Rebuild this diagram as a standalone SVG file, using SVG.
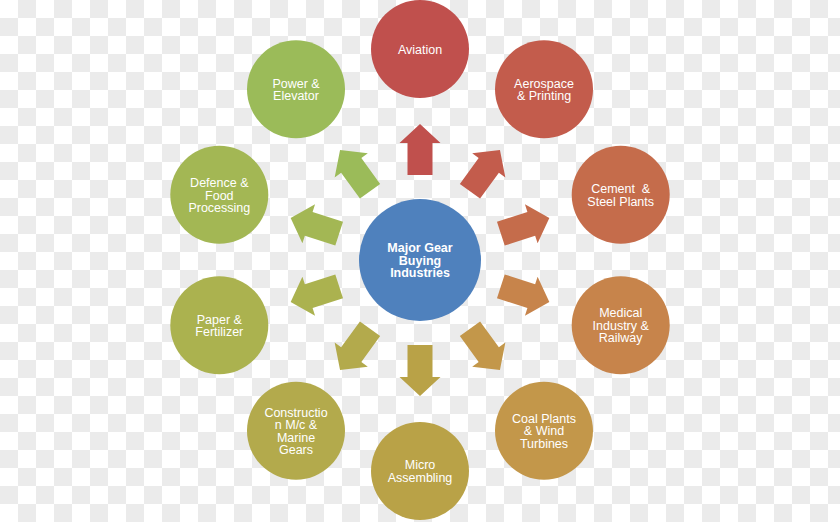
<svg xmlns="http://www.w3.org/2000/svg" xmlns:xlink="http://www.w3.org/1999/xlink" width="840" height="522" viewBox="0 0 840 522">
<defs>
<pattern id="checker" x="0" y="0" width="36" height="36" patternUnits="userSpaceOnUse">
<rect x="0" y="0" width="36" height="36" fill="#ffffff"/>
<rect x="18" y="0" width="18" height="18" fill="#ebebeb"/>
<rect x="0" y="18" width="18" height="18" fill="#ebebeb"/>
</pattern>
<path id="arr" d="M0,-136 L20.5,-117 L12.5,-117 L12.5,-85 L-12.5,-85 L-12.5,-117 L-20.5,-117 Z"/>
</defs>
<style>
.lbl{font-family:"Liberation Sans",Arial,sans-serif;font-size:12.5px;fill:#ffffff;text-anchor:middle;white-space:pre}
.ctr{font-family:"Liberation Sans",Arial,sans-serif;font-size:12.5px;font-weight:bold;fill:#ffffff;text-anchor:middle}
</style>
<rect width="840" height="522" fill="url(#checker)"/>
<g id="connectors">
<use xlink:href="#arr" href="#arr" transform="translate(420,260) rotate(0)" fill="#c0504d"/>
<use xlink:href="#arr" href="#arr" transform="translate(420,260) rotate(36)" fill="#c35c4c"/>
<use xlink:href="#arr" href="#arr" transform="translate(420,260) rotate(72)" fill="#c56c4b"/>
<use xlink:href="#arr" href="#arr" transform="translate(420,260) rotate(108)" fill="#c7844b"/>
<use xlink:href="#arr" href="#arr" transform="translate(420,260) rotate(144)" fill="#c3974a"/>
<use xlink:href="#arr" href="#arr" transform="translate(420,260) rotate(180)" fill="#b9a247"/>
<use xlink:href="#arr" href="#arr" transform="translate(420,260) rotate(216)" fill="#b3aa4c"/>
<use xlink:href="#arr" href="#arr" transform="translate(420,260) rotate(252)" fill="#abb24f"/>
<use xlink:href="#arr" href="#arr" transform="translate(420,260) rotate(288)" fill="#a3b754"/>
<use xlink:href="#arr" href="#arr" transform="translate(420,260) rotate(324)" fill="#9bbb59"/>
</g>
<g id="center">
<circle cx="420" cy="260" r="61" fill="#4f81bd"/>
<text class="ctr" x="420" y="252">Major Gear</text>
<text class="ctr" x="420" y="264.5">Buying</text>
<text class="ctr" x="420" y="277">Industries</text>
</g>
<g id="aviation">
<circle cx="420" cy="49" r="49" fill="#c0504d"/>
<text class="lbl" x="420" y="53.5">Aviation</text>
</g>
<g id="aerospace">
<circle cx="544" cy="89.3" r="49" fill="#c35c4c"/>
<text class="lbl" x="544" y="87.5">Aerospace</text>
<text class="lbl" x="544" y="100">&amp; Printing</text>
</g>
<g id="cement">
<circle cx="620.7" cy="194.8" r="49" fill="#c56c4b"/>
<text class="lbl" x="620.7" y="193" xml:space="preserve">Cement  &amp;</text>
<text class="lbl" x="620.7" y="205.5">Steel Plants</text>
</g>
<g id="medical">
<circle cx="620.7" cy="325.2" r="49" fill="#c7844b"/>
<text class="lbl" x="620.7" y="317">Medical</text>
<text class="lbl" x="620.7" y="329.5">Industry &amp;</text>
<text class="lbl" x="620.7" y="342">Railway</text>
</g>
<g id="coal">
<circle cx="544" cy="430.7" r="49" fill="#c3974a"/>
<text class="lbl" x="544" y="422.5">Coal Plants</text>
<text class="lbl" x="544" y="435">&amp; Wind</text>
<text class="lbl" x="544" y="447.5">Turbines</text>
</g>
<g id="micro">
<circle cx="420" cy="471" r="49" fill="#b9a247"/>
<text class="lbl" x="420" y="469">Micro</text>
<text class="lbl" x="420" y="481.5">Assembling</text>
</g>
<g id="construction">
<circle cx="296" cy="430.7" r="49" fill="#b3aa4c"/>
<text class="lbl" x="296" y="416.5">Constructio</text>
<text class="lbl" x="296" y="429">n M/c &amp;</text>
<text class="lbl" x="296" y="441.5">Marine</text>
<text class="lbl" x="296" y="454">Gears</text>
</g>
<g id="paper">
<circle cx="219.3" cy="325.2" r="49" fill="#abb24f"/>
<text class="lbl" x="219.3" y="323.5">Paper &amp;</text>
<text class="lbl" x="219.3" y="336">Fertilizer</text>
</g>
<g id="defence">
<circle cx="219.3" cy="194.8" r="49" fill="#a3b754"/>
<text class="lbl" x="219.3" y="187">Defence &amp;</text>
<text class="lbl" x="219.3" y="199.5">Food</text>
<text class="lbl" x="219.3" y="212">Processing</text>
</g>
<g id="power">
<circle cx="296" cy="89.3" r="49" fill="#9bbb59"/>
<text class="lbl" x="296" y="87.5">Power &amp;</text>
<text class="lbl" x="296" y="100">Elevator</text>
</g>
</svg>
